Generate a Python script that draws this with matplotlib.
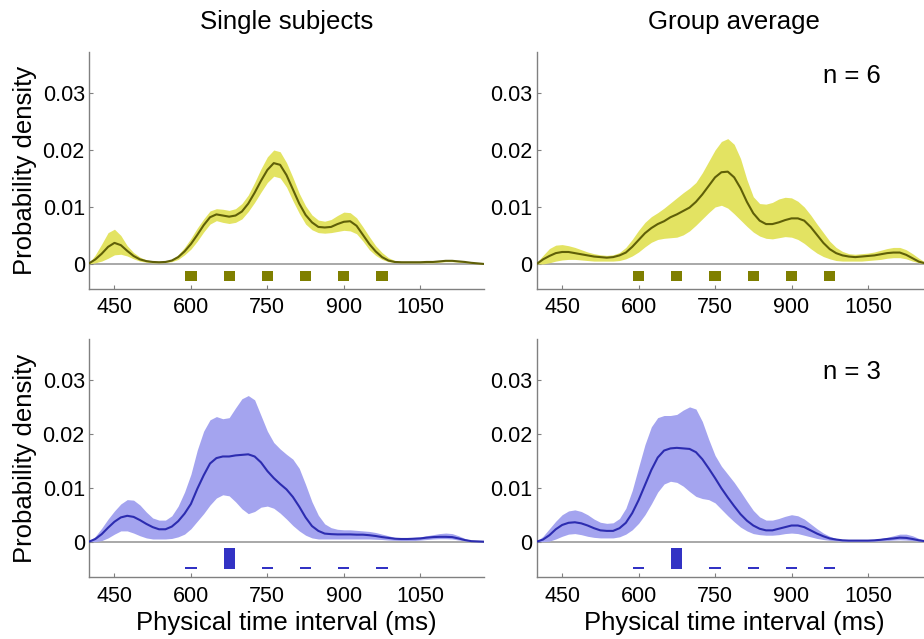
import numpy as np
import matplotlib
matplotlib.use("Agg")
import matplotlib.pyplot as plt

plt.rcParams['font.family'] = ['Liberation Sans', 'DejaVu Sans']

# time grid (ms), 400 .. 1175 every 12.5 ms
x = np.arange(400, 1175.1, 12.5)

# densities in units of 1e-3, one row per 100 ms
# top left: single subject, yellow
tl_mean = [0.1, 0.8, 1.8, 3.0, 3.7, 3.3, 2.3, 1.4,
           0.8, 0.5, 0.35, 0.3, 0.35, 0.6, 1.2, 2.2,
           3.5, 5.1, 6.8, 8.2, 8.7, 8.5, 8.3, 8.5,
           9.2, 10.6, 12.5, 14.6, 16.5, 17.7, 17.4, 15.6,
           13.1, 10.6, 8.6, 7.3, 6.5, 6.4, 6.5, 7.0,
           7.4, 7.5, 6.7, 5.1, 3.5, 2.2, 1.2, 0.6,
           0.35, 0.3, 0.3, 0.3, 0.3, 0.35, 0.35, 0.45,
           0.55, 0.55, 0.45, 0.35, 0.2, 0.1, 0.0]
tl_upper = [0.1, 1.6, 3.5, 5.5, 6.1, 5.0, 3.2, 2.0,
            1.2, 0.7, 0.5, 0.4, 0.45, 0.8, 1.6, 2.9,
            4.5, 6.3, 7.9, 9.3, 9.7, 9.6, 9.4, 9.7,
            10.6, 12.1, 14.3, 16.7, 18.8, 20.0, 19.7, 17.8,
            15.2, 12.4, 10.2, 8.6, 7.7, 7.5, 7.8, 8.5,
            9.1, 9.0, 8.1, 6.5, 4.8, 3.2, 2.0, 1.1,
            0.6, 0.45, 0.4, 0.4, 0.4, 0.4, 0.4, 0.55,
            0.7, 0.7, 0.6, 0.45, 0.3, 0.15, 0.0]
tl_lower = [0.0, 0.2, 0.5, 1.0, 1.6, 1.7, 1.4, 0.9,
            0.5, 0.3, 0.2, 0.2, 0.25, 0.4, 0.8, 1.6,
            2.6, 4.0, 5.6, 7.0, 7.6, 7.3, 7.1, 7.3,
            7.9, 9.2, 10.8, 12.6, 14.3, 15.4, 15.1, 13.5,
            11.1, 8.9, 7.0, 6.0, 5.5, 5.4, 5.5, 5.7,
            5.9, 5.8, 5.3, 4.0, 2.5, 1.5, 0.8, 0.4,
            0.25, 0.2, 0.2, 0.2, 0.2, 0.2, 0.2, 0.3,
            0.4, 0.4, 0.3, 0.25, 0.1, 0.05, 0.0]

# top right: group average, yellow
tr_mean = [0.0, 0.8, 1.4, 1.9, 2.1, 2.1, 1.9, 1.7,
           1.5, 1.3, 1.2, 1.1, 1.2, 1.5, 2.0, 3.0,
           4.2, 5.4, 6.3, 7.0, 7.5, 8.2, 8.7, 9.3,
           9.9, 10.9, 12.2, 13.7, 15.2, 16.1, 16.2, 15.2,
           13.3, 10.9, 8.9, 7.6, 7.0, 7.0, 7.3, 7.7,
           8.0, 8.0, 7.6, 6.5, 5.1, 3.7, 2.6, 1.9,
           1.5, 1.3, 1.2, 1.3, 1.4, 1.5, 1.7, 1.9,
           2.0, 2.0, 1.6, 1.0, 0.4, 0.1, 0.0]
tr_upper = [0.2, 1.5, 2.7, 3.3, 3.4, 3.2, 2.9, 2.5,
            2.1, 1.8, 1.6, 1.5, 1.6, 2.0, 2.9, 4.3,
            5.9, 7.3, 8.3, 9.0, 9.8, 10.7, 11.6, 12.5,
            13.3, 14.3, 16.0, 18.0, 20.0, 21.5, 22.0, 21.0,
            18.5, 14.8, 11.8, 10.6, 10.5, 10.8, 11.4, 11.7,
            11.6, 11.0, 10.0, 8.6, 7.0, 5.5, 4.0, 2.9,
            2.2, 1.8, 1.7, 1.8, 1.9, 2.1, 2.4, 2.7,
            2.9, 2.9, 2.5, 1.8, 1.0, 0.3, 0.0]
tr_lower = [0.0, 0.0, 0.2, 0.5, 0.7, 0.8, 0.8, 0.7,
            0.6, 0.5, 0.5, 0.5, 0.5, 0.6, 0.9, 1.4,
            2.1, 3.0, 3.8, 4.3, 4.5, 4.6, 4.7, 5.1,
            5.8, 6.8, 7.9, 9.0, 10.0, 10.3, 9.8, 8.8,
            7.7, 6.6, 5.6, 4.9, 4.5, 4.4, 4.6, 4.8,
            4.7, 4.3, 3.6, 2.7, 1.9, 1.3, 0.9, 0.6,
            0.5, 0.5, 0.5, 0.5, 0.6, 0.7, 0.8, 1.0,
            1.1, 1.1, 0.9, 0.5, 0.2, 0.0, 0.0]

# bottom left: single subject, blue
bl_mean = [0.0, 0.5, 1.4, 2.6, 3.7, 4.5, 4.8, 4.6,
           4.0, 3.3, 2.7, 2.3, 2.3, 2.8, 3.8, 5.2,
           7.0, 9.8, 12.3, 14.5, 15.5, 15.8, 15.8, 16.0,
           16.1, 16.2, 15.8, 14.7, 13.1, 11.8, 10.7, 9.7,
           8.3, 6.5, 4.5, 2.9, 2.0, 1.5, 1.4, 1.35,
           1.35, 1.35, 1.3, 1.3, 1.2, 1.05, 0.85, 0.7,
           0.55, 0.5, 0.5, 0.55, 0.6, 0.75, 0.85, 0.9,
           0.9, 0.85, 0.6, 0.3, 0.1, 0.05, 0.0]
bl_upper = [0.0, 1.0, 2.5, 4.2, 5.7, 7.0, 7.8, 7.7,
            6.8, 5.5, 4.4, 4.0, 4.0, 4.8, 6.6, 9.2,
            12.5, 17.0, 20.5, 22.6, 23.2, 22.8, 23.0, 24.8,
            26.5, 27.1, 26.3, 23.4, 20.5, 18.4, 17.2, 16.2,
            15.3, 13.6, 10.6, 7.4, 4.9, 3.3, 2.6, 2.3,
            2.2, 2.2, 2.1, 2.0, 1.9, 1.7, 1.4, 1.1,
            0.8, 0.7, 0.7, 0.8, 0.9, 1.1, 1.3, 1.5,
            1.6, 1.5, 1.1, 0.6, 0.2, 0.1, 0.0]
bl_lower = [0.0, 0.0, 0.2, 0.7, 1.4, 2.0, 2.0, 1.6,
            1.1, 0.7, 0.5, 0.5, 0.5, 0.6, 0.9, 1.4,
            2.4, 3.8, 5.2, 6.8, 8.1, 8.7, 8.5, 7.4,
            6.1, 5.2, 5.6, 6.4, 6.6, 6.2, 5.3, 4.2,
            3.0, 2.0, 1.2, 0.7, 0.5, 0.5, 0.5, 0.5,
            0.5, 0.5, 0.5, 0.5, 0.5, 0.45, 0.4, 0.3,
            0.25, 0.2, 0.2, 0.2, 0.3, 0.4, 0.5, 0.55,
            0.55, 0.5, 0.3, 0.15, 0.05, 0.0, 0.0]

# bottom right: group average, blue
br_mean = [0.0, 0.4, 1.2, 2.3, 3.1, 3.5, 3.6, 3.4,
           3.0, 2.5, 2.1, 2.0, 2.0, 2.5, 3.5, 5.3,
           7.7, 10.5, 13.3, 15.6, 16.9, 17.3, 17.4, 17.3,
           17.2, 16.6, 15.3, 13.6, 11.8, 9.9, 8.2, 6.6,
           5.1, 3.9, 3.0, 2.4, 2.1, 2.1, 2.4, 2.7,
           3.0, 3.0, 2.7, 2.1, 1.5, 1.0, 0.6, 0.4,
           0.25, 0.2, 0.2, 0.2, 0.2, 0.25, 0.35, 0.5,
           0.6, 0.75, 0.7, 0.5, 0.25, 0.1, 0.0]
br_upper = [0.0, 1.0, 2.4, 3.8, 5.0, 5.7, 5.9, 5.6,
            5.0, 4.2, 3.6, 3.4, 3.5, 4.3, 6.2, 9.5,
            13.8, 18.0, 21.3, 23.0, 23.4, 23.4, 23.6, 24.4,
            25.0, 24.6, 22.3, 19.0, 16.0, 14.0, 12.5, 11.0,
            9.3, 7.5, 5.8, 4.6, 4.0, 4.0, 4.3, 4.7,
            5.0, 4.8, 4.2, 3.3, 2.4, 1.6, 1.0, 0.6,
            0.4, 0.3, 0.3, 0.3, 0.3, 0.4, 0.6, 0.8,
            1.1, 1.4, 1.4, 1.1, 0.6, 0.2, 0.0]
br_lower = [0.0, 0.0, 0.1, 0.5, 1.0, 1.4, 1.5, 1.3,
            1.0, 0.8, 0.7, 0.7, 0.7, 0.9, 1.4, 2.2,
            3.4, 5.0, 7.0, 9.2, 10.7, 11.2, 11.0, 10.3,
            9.3, 8.4, 8.0, 7.8, 7.2, 6.0, 4.8, 3.7,
            2.7, 2.0, 1.5, 1.3, 1.2, 1.2, 1.3, 1.5,
            1.6, 1.5, 1.2, 0.9, 0.6, 0.4, 0.25, 0.15,
            0.1, 0.1, 0.1, 0.1, 0.1, 0.1, 0.15, 0.2,
            0.3, 0.35, 0.3, 0.2, 0.1, 0.0, 0.0]

# standard intervals and their weights
intervals = [600, 675, 750, 825, 900, 975]
yellow_weights = [1, 1, 1, 1, 1, 1]
blue_weights = [0.09, 1, 0.09, 0.09, 0.09, 0.09]

titles = ['Single subjects', 'Group average']
n_labels = ['n = 6', 'n = 3']

yellow = dict(fill='#e3e362', line='#5f5f08', bar='#7f7f00')
blue = dict(fill='#a4a4ef', line='#2c2cb0', bar='#3232c4')

fig = plt.figure(figsize=(9.24, 6.39), dpi=100)

panels = [
    (tl_mean, tl_lower, tl_upper, yellow, yellow_weights, 0, 0),
    (tr_mean, tr_lower, tr_upper, yellow, yellow_weights, 0, 1),
    (bl_mean, bl_lower, bl_upper, blue, blue_weights, 1, 0),
    (br_mean, br_lower, br_upper, blue, blue_weights, 1, 1),
]

lefts = [0.0963, 0.5808]
width = 0.4275
# bottom, height, ylim, bar base, bar height
rows = [(0.5477, 0.3709, (-0.0044, 0.0372), -0.0030, 0.00176),
        (0.0966, 0.3730, (-0.0066, 0.0376), -0.00512, 0.0040)]

for mean, lower, upper, col, weights, r, c in panels:
    bottom, height, ylim, base, bar_h = rows[r]
    ax = fig.add_axes([lefts[c], bottom, width, height])
    mean = np.array(mean) * 1e-3
    lower = np.array(lower) * 1e-3
    upper = np.array(upper) * 1e-3
    ax.axhline(0, color='#9a9a9a', lw=1.2, zorder=1)
    ax.fill_between(x, lower, upper, color=col['fill'], lw=0, zorder=2)
    ax.plot(x, mean, color=col['line'], lw=1.5, zorder=3, solid_joinstyle='round')
    w = np.array(weights, dtype=float)
    ax.bar(intervals, w / w.max() * bar_h, width=22, bottom=base,
           color=col['bar'], align='center', zorder=3)

    ax.set_xlim(400, 1175)
    ax.set_ylim(*ylim)
    ax.set_xticks([450, 600, 750, 900, 1050])
    ax.set_yticks([0, 0.01, 0.02, 0.03])
    ax.set_yticklabels(['0', '0.01', '0.02', '0.03'])
    ax.tick_params(direction='in', length=3, width=0.8, colors='#808080',
                   labelcolor='black', labelsize=15.5)
    ax.tick_params(axis='x', pad=6)
    ax.tick_params(axis='y', pad=3)
    for s in ['top', 'right']:
        ax.spines[s].set_visible(False)
    for s in ['left', 'bottom']:
        ax.spines[s].set_color('#808080')
        ax.spines[s].set_linewidth(1.0)

    if c == 0:
        ax.set_ylabel('Probability density', fontsize=18.5, labelpad=4)
    else:
        ax.text(0.798, 0.90 if r == 0 else 0.86, n_labels[r], transform=ax.transAxes,
                ha='center', va='center', fontsize=18.5)
    if r == 1:
        ax.set_xlabel('Physical time interval (ms)', fontsize=18.5, labelpad=3)
    if r == 0:
        fig.text(lefts[c] + width / 2, 0.966, titles[c], ha='center', va='center',
                 fontsize=18.5)

fig.savefig('out.png', dpi=100)
